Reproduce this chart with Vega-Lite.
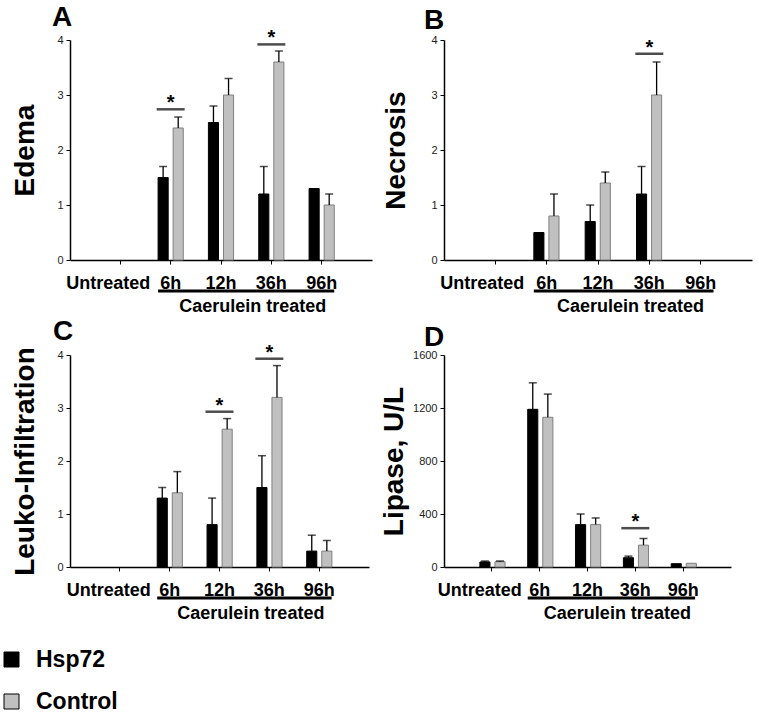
{
  "$schema": "https://vega.github.io/schema/vega-lite/v6.json",
  "padding": {"left": 0, "top": 4, "right": 2, "bottom": 0},
  "background": "white",
  "datasets": {
    "bars": [
      {"panel": "A", "t": "6h", "g": "Hsp72", "v": 1.5, "hi": 1.7},
      {"panel": "A", "t": "6h", "g": "Control", "v": 2.4, "hi": 2.6},
      {"panel": "A", "t": "12h", "g": "Hsp72", "v": 2.5, "hi": 2.8},
      {"panel": "A", "t": "12h", "g": "Control", "v": 3.0, "hi": 3.3},
      {"panel": "A", "t": "36h", "g": "Hsp72", "v": 1.2, "hi": 1.7},
      {"panel": "A", "t": "36h", "g": "Control", "v": 3.6, "hi": 3.8},
      {"panel": "A", "t": "96h", "g": "Hsp72", "v": 1.3, "hi": null},
      {"panel": "A", "t": "96h", "g": "Control", "v": 1.0, "hi": 1.2},
      {"panel": "B", "t": "6h", "g": "Hsp72", "v": 0.5, "hi": null},
      {"panel": "B", "t": "6h", "g": "Control", "v": 0.8, "hi": 1.2},
      {"panel": "B", "t": "12h", "g": "Hsp72", "v": 0.7, "hi": 1.0},
      {"panel": "B", "t": "12h", "g": "Control", "v": 1.4, "hi": 1.6},
      {"panel": "B", "t": "36h", "g": "Hsp72", "v": 1.2, "hi": 1.7},
      {"panel": "B", "t": "36h", "g": "Control", "v": 3.0, "hi": 3.6},
      {"panel": "C", "t": "6h", "g": "Hsp72", "v": 1.3, "hi": 1.5},
      {"panel": "C", "t": "6h", "g": "Control", "v": 1.4, "hi": 1.8},
      {"panel": "C", "t": "12h", "g": "Hsp72", "v": 0.8, "hi": 1.3},
      {"panel": "C", "t": "12h", "g": "Control", "v": 2.6, "hi": 2.8},
      {"panel": "C", "t": "36h", "g": "Hsp72", "v": 1.5, "hi": 2.1},
      {"panel": "C", "t": "36h", "g": "Control", "v": 3.2, "hi": 3.8},
      {"panel": "C", "t": "96h", "g": "Hsp72", "v": 0.3, "hi": 0.6},
      {"panel": "C", "t": "96h", "g": "Control", "v": 0.3, "hi": 0.5},
      {"panel": "D", "t": "Untreated", "g": "Hsp72", "v": 38, "hi": 45},
      {"panel": "D", "t": "Untreated", "g": "Control", "v": 40, "hi": 45},
      {"panel": "D", "t": "6h", "g": "Hsp72", "v": 1190, "hi": 1390},
      {"panel": "D", "t": "6h", "g": "Control", "v": 1130, "hi": 1305},
      {"panel": "D", "t": "12h", "g": "Hsp72", "v": 320, "hi": 400},
      {"panel": "D", "t": "12h", "g": "Control", "v": 320, "hi": 370},
      {"panel": "D", "t": "36h", "g": "Hsp72", "v": 70, "hi": 82},
      {"panel": "D", "t": "36h", "g": "Control", "v": 165, "hi": 215},
      {"panel": "D", "t": "96h", "g": "Hsp72", "v": 25, "hi": null},
      {"panel": "D", "t": "96h", "g": "Control", "v": 28, "hi": null}
    ],
    "sig": [
      {"panel": "A", "t": "6h", "y": 2.74, "label": "*"},
      {"panel": "A", "t": "36h", "y": 3.92, "label": "*"},
      {"panel": "B", "t": "36h", "y": 3.75, "label": "*"},
      {"panel": "C", "t": "12h", "y": 2.93, "label": "*"},
      {"panel": "C", "t": "36h", "y": 3.93, "label": "*"},
      {"panel": "D", "t": "36h", "y": 293, "label": "*"}
    ],
    "treat": [{"label": "Caerulein treated"}]
  },
  "concat": [
    {
      "width": 302, "height": 220,
      "title": {"text": "A", "dx": -18, "dy": -2},
      "layer": [
        {"data": {"name": "bars"}, "transform": [{"filter": "datum.panel === 'A'"}],
         "mark": {"type": "bar", "strokeWidth": 1},
         "encoding": {
           "x": {"field": "t", "type": "nominal", "title": null, "scale": {"domain": ["Untreated", "6h", "12h", "36h", "96h"], "paddingInner": 0.5, "paddingOuter": 0.75},
                 "axis": {"title": null, "labelOffset": {"condition": {"test": "datum.value === 'Untreated'", "value": -12}, "value": 0}}},
           "xOffset": {"field": "g", "type": "nominal", "scale": {"domain": ["Hsp72", "Control"], "paddingInner": 0.33}},
           "y": {"field": "v", "type": "quantitative", "title": "Edema", "scale": {"domain": [0, 4], "nice": false}, "axis": {"title": "Edema", "values": [0, 1, 2, 3, 4], "format": "d", "titlePadding": 17}},
           "color": {"field": "g", "type": "nominal", "scale": {"domain": ["Hsp72", "Control"], "range": ["#000000", "#c0c0c0"]}},
           "stroke": {"condition": {"test": "datum.g === 'Control'", "value": "#7f7f7f"}, "value": "#000000"}
         }},
        {"data": {"name": "bars"}, "transform": [{"filter": "datum.panel === 'A' && datum.hi != null"}],
         "mark": {"type": "rule", "strokeWidth": 1.3, "color": "black"},
         "encoding": {
           "x": {"field": "t", "type": "nominal", "title": null},
           "xOffset": {"field": "g", "type": "nominal"},
           "y": {"field": "v", "type": "quantitative", "title": "Edema", "scale": {"domain": [0, 4], "nice": false}},
           "y2": {"field": "hi"}
         }},
        {"data": {"name": "bars"}, "transform": [{"filter": "datum.panel === 'A' && datum.hi != null"}],
         "mark": {"type": "tick", "orient": "horizontal", "size": 8, "thickness": 1.5, "color": "black"},
         "encoding": {
           "x": {"field": "t", "type": "nominal", "title": null},
           "xOffset": {"field": "g", "type": "nominal"},
           "y": {"field": "hi", "type": "quantitative", "title": "Edema", "scale": {"domain": [0, 4], "nice": false}}
         }},
        {"data": {"name": "sig"}, "transform": [{"filter": "datum.panel === 'A'"}],
         "mark": {"type": "tick", "orient": "horizontal", "size": 28, "thickness": 2.5, "color": "black"},
         "encoding": {
           "x": {"field": "t", "type": "nominal", "title": null},
           "y": {"field": "y", "type": "quantitative", "title": "Edema", "scale": {"domain": [0, 4], "nice": false}}
         }},
        {"data": {"name": "sig"}, "transform": [{"filter": "datum.panel === 'A'"}],
         "mark": {"type": "text", "fontSize": 20, "fontWeight": "bold", "baseline": "alphabetic", "color": "black"},
         "encoding": {
           "x": {"field": "t", "type": "nominal", "title": null},
           "y": {"field": "y", "type": "quantitative", "title": "Edema", "scale": {"domain": [0, 4], "nice": false}},
           "text": {"field": "label"}
         }},
        {"data": {"name": "treat"},
         "mark": {"type": "rule", "strokeWidth": 3, "color": "black"},
         "encoding": {
           "x": {"datum": "6h", "type": "nominal", "bandPosition": 0, "title": null},
           "x2": {"datum": "96h", "bandPosition": 1},
           "y": {"datum": -0.564, "type": "quantitative", "title": "Edema", "scale": {"domain": [0, 4], "nice": false}}
         }},
        {"data": {"name": "treat"},
         "mark": {"type": "text", "fontSize": 18, "fontWeight": "bold", "baseline": "middle", "color": "black", "dx": -6},
         "encoding": {
           "x": {"datum": "36h", "type": "nominal", "bandPosition": 0, "title": null},
           "y": {"datum": -0.855, "type": "quantitative", "title": "Edema", "scale": {"domain": [0, 4], "nice": false}},
           "text": {"field": "label"}
         }}
      ]
    },
    {
      "width": 308, "height": 220,
      "title": {"text": "B", "dx": -20, "dy": -5},
      "layer": [
        {"data": {"name": "bars"}, "transform": [{"filter": "datum.panel === 'B'"}],
         "mark": {"type": "bar", "strokeWidth": 1},
         "encoding": {
           "x": {"field": "t", "type": "nominal", "title": null, "scale": {"domain": ["Untreated", "6h", "12h", "36h", "96h"], "paddingInner": 0.5, "paddingOuter": 0.75},
                 "axis": {"title": null, "labelOffset": {"condition": {"test": "datum.value === 'Untreated'", "value": -13}, "value": 0}}},
           "xOffset": {"field": "g", "type": "nominal", "scale": {"domain": ["Hsp72", "Control"], "paddingInner": 0.33}},
           "y": {"field": "v", "type": "quantitative", "title": "Necrosis", "scale": {"domain": [0, 4], "nice": false}, "axis": {"title": "Necrosis", "values": [0, 1, 2, 3, 4], "format": "d", "titlePadding": 20}},
           "color": {"field": "g", "type": "nominal", "scale": {"domain": ["Hsp72", "Control"], "range": ["#000000", "#c0c0c0"]}},
           "stroke": {"condition": {"test": "datum.g === 'Control'", "value": "#7f7f7f"}, "value": "#000000"}
         }},
        {"data": {"name": "bars"}, "transform": [{"filter": "datum.panel === 'B' && datum.hi != null"}],
         "mark": {"type": "rule", "strokeWidth": 1.3, "color": "black"},
         "encoding": {
           "x": {"field": "t", "type": "nominal", "title": null},
           "xOffset": {"field": "g", "type": "nominal"},
           "y": {"field": "v", "type": "quantitative", "title": "Necrosis", "scale": {"domain": [0, 4], "nice": false}},
           "y2": {"field": "hi"}
         }},
        {"data": {"name": "bars"}, "transform": [{"filter": "datum.panel === 'B' && datum.hi != null"}],
         "mark": {"type": "tick", "orient": "horizontal", "size": 8, "thickness": 1.5, "color": "black"},
         "encoding": {
           "x": {"field": "t", "type": "nominal", "title": null},
           "xOffset": {"field": "g", "type": "nominal"},
           "y": {"field": "hi", "type": "quantitative", "title": "Necrosis", "scale": {"domain": [0, 4], "nice": false}}
         }},
        {"data": {"name": "sig"}, "transform": [{"filter": "datum.panel === 'B'"}],
         "mark": {"type": "tick", "orient": "horizontal", "size": 28, "thickness": 2.5, "color": "black"},
         "encoding": {
           "x": {"field": "t", "type": "nominal", "title": null},
           "y": {"field": "y", "type": "quantitative", "title": "Necrosis", "scale": {"domain": [0, 4], "nice": false}}
         }},
        {"data": {"name": "sig"}, "transform": [{"filter": "datum.panel === 'B'"}],
         "mark": {"type": "text", "fontSize": 20, "fontWeight": "bold", "baseline": "alphabetic", "color": "black"},
         "encoding": {
           "x": {"field": "t", "type": "nominal", "title": null},
           "y": {"field": "y", "type": "quantitative", "title": "Necrosis", "scale": {"domain": [0, 4], "nice": false}},
           "text": {"field": "label"}
         }},
        {"data": {"name": "treat"},
         "mark": {"type": "rule", "strokeWidth": 3, "color": "black"},
         "encoding": {
           "x": {"datum": "6h", "type": "nominal", "bandPosition": 0, "title": null},
           "x2": {"datum": "96h", "bandPosition": 1},
           "y": {"datum": -0.564, "type": "quantitative", "title": "Necrosis", "scale": {"domain": [0, 4], "nice": false}}
         }},
        {"data": {"name": "treat"},
         "mark": {"type": "text", "fontSize": 18, "fontWeight": "bold", "baseline": "middle", "color": "black", "dx": -6},
         "encoding": {
           "x": {"datum": "36h", "type": "nominal", "bandPosition": 0, "title": null},
           "y": {"datum": -0.855, "type": "quantitative", "title": "Necrosis", "scale": {"domain": [0, 4], "nice": false}},
           "text": {"field": "label"}
         }}
      ]
    },
    {
      "width": 299, "height": 212,
      "title": {"text": "C", "dx": -17, "dy": -3},
      "layer": [
        {"data": {"name": "bars"}, "transform": [{"filter": "datum.panel === 'C'"}],
         "mark": {"type": "bar", "strokeWidth": 1},
         "encoding": {
           "x": {"field": "t", "type": "nominal", "title": null, "scale": {"domain": ["Untreated", "6h", "12h", "36h", "96h"], "paddingInner": 0.5, "paddingOuter": 0.75},
                 "axis": {"title": null, "labelOffset": {"condition": {"test": "datum.value === 'Untreated'", "value": -11}, "value": 0}}},
           "xOffset": {"field": "g", "type": "nominal", "scale": {"domain": ["Hsp72", "Control"], "paddingInner": 0.33}},
           "y": {"field": "v", "type": "quantitative", "title": "Leuko-Infiltration", "scale": {"domain": [0, 4], "nice": false}, "axis": {"title": "Leuko-Infiltration", "values": [0, 1, 2, 3, 4], "format": "d", "titlePadding": 17}},
           "color": {"field": "g", "type": "nominal", "scale": {"domain": ["Hsp72", "Control"], "range": ["#000000", "#c0c0c0"]}},
           "stroke": {"condition": {"test": "datum.g === 'Control'", "value": "#7f7f7f"}, "value": "#000000"}
         }},
        {"data": {"name": "bars"}, "transform": [{"filter": "datum.panel === 'C' && datum.hi != null"}],
         "mark": {"type": "rule", "strokeWidth": 1.3, "color": "black"},
         "encoding": {
           "x": {"field": "t", "type": "nominal", "title": null},
           "xOffset": {"field": "g", "type": "nominal"},
           "y": {"field": "v", "type": "quantitative", "title": "Leuko-Infiltration", "scale": {"domain": [0, 4], "nice": false}},
           "y2": {"field": "hi"}
         }},
        {"data": {"name": "bars"}, "transform": [{"filter": "datum.panel === 'C' && datum.hi != null"}],
         "mark": {"type": "tick", "orient": "horizontal", "size": 8, "thickness": 1.5, "color": "black"},
         "encoding": {
           "x": {"field": "t", "type": "nominal", "title": null},
           "xOffset": {"field": "g", "type": "nominal"},
           "y": {"field": "hi", "type": "quantitative", "title": "Leuko-Infiltration", "scale": {"domain": [0, 4], "nice": false}}
         }},
        {"data": {"name": "sig"}, "transform": [{"filter": "datum.panel === 'C'"}],
         "mark": {"type": "tick", "orient": "horizontal", "size": 28, "thickness": 2.5, "color": "black"},
         "encoding": {
           "x": {"field": "t", "type": "nominal", "title": null},
           "y": {"field": "y", "type": "quantitative", "title": "Leuko-Infiltration", "scale": {"domain": [0, 4], "nice": false}}
         }},
        {"data": {"name": "sig"}, "transform": [{"filter": "datum.panel === 'C'"}],
         "mark": {"type": "text", "fontSize": 20, "fontWeight": "bold", "baseline": "alphabetic", "color": "black"},
         "encoding": {
           "x": {"field": "t", "type": "nominal", "title": null},
           "y": {"field": "y", "type": "quantitative", "title": "Leuko-Infiltration", "scale": {"domain": [0, 4], "nice": false}},
           "text": {"field": "label"}
         }},
        {"data": {"name": "treat"},
         "mark": {"type": "rule", "strokeWidth": 3, "color": "black"},
         "encoding": {
           "x": {"datum": "6h", "type": "nominal", "bandPosition": 0, "title": null},
           "x2": {"datum": "96h", "bandPosition": 1},
           "y": {"datum": -0.585, "type": "quantitative", "title": "Leuko-Infiltration", "scale": {"domain": [0, 4], "nice": false}}
         }},
        {"data": {"name": "treat"},
         "mark": {"type": "text", "fontSize": 18, "fontWeight": "bold", "baseline": "middle", "color": "black", "dx": -6},
         "encoding": {
           "x": {"datum": "36h", "type": "nominal", "bandPosition": 0, "title": null},
           "y": {"datum": -0.887, "type": "quantitative", "title": "Leuko-Infiltration", "scale": {"domain": [0, 4], "nice": false}},
           "text": {"field": "label"}
         }}
      ]
    },
    {
      "width": 287, "height": 212,
      "title": {"text": "D", "dx": -20, "dy": -3},
      "layer": [
        {"data": {"name": "bars"}, "transform": [{"filter": "datum.panel === 'D'"}],
         "mark": {"type": "bar", "strokeWidth": 1},
         "encoding": {
           "x": {"field": "t", "type": "nominal", "title": null, "scale": {"domain": ["Untreated", "6h", "12h", "36h", "96h"], "paddingInner": 0.5, "paddingOuter": 0.75},
                 "axis": {"title": null, "labelOffset": {"condition": {"test": "datum.value === 'Untreated'", "value": -12}, "value": 0}}},
           "xOffset": {"field": "g", "type": "nominal", "scale": {"domain": ["Hsp72", "Control"], "paddingInner": 0.33}},
           "y": {"field": "v", "type": "quantitative", "title": "Lipase, U/L", "scale": {"domain": [0, 1600], "nice": false}, "axis": {"title": "Lipase, U/L", "values": [0, 200, 400, 600, 800, 1000, 1200, 1400, 1600], "format": "d", "labelOverlap": false, "titlePadding": 4}},
           "color": {"field": "g", "type": "nominal", "scale": {"domain": ["Hsp72", "Control"], "range": ["#000000", "#c0c0c0"]}},
           "stroke": {"condition": {"test": "datum.g === 'Control'", "value": "#7f7f7f"}, "value": "#000000"}
         }},
        {"data": {"name": "bars"}, "transform": [{"filter": "datum.panel === 'D' && datum.hi != null"}],
         "mark": {"type": "rule", "strokeWidth": 1.3, "color": "black"},
         "encoding": {
           "x": {"field": "t", "type": "nominal", "title": null},
           "xOffset": {"field": "g", "type": "nominal"},
           "y": {"field": "v", "type": "quantitative", "title": "Lipase, U/L", "scale": {"domain": [0, 1600], "nice": false}},
           "y2": {"field": "hi"}
         }},
        {"data": {"name": "bars"}, "transform": [{"filter": "datum.panel === 'D' && datum.hi != null"}],
         "mark": {"type": "tick", "orient": "horizontal", "size": 8, "thickness": 1.5, "color": "black"},
         "encoding": {
           "x": {"field": "t", "type": "nominal", "title": null},
           "xOffset": {"field": "g", "type": "nominal"},
           "y": {"field": "hi", "type": "quantitative", "title": "Lipase, U/L", "scale": {"domain": [0, 1600], "nice": false}}
         }},
        {"data": {"name": "sig"}, "transform": [{"filter": "datum.panel === 'D'"}],
         "mark": {"type": "tick", "orient": "horizontal", "size": 28, "thickness": 2.5, "color": "black"},
         "encoding": {
           "x": {"field": "t", "type": "nominal", "title": null},
           "y": {"field": "y", "type": "quantitative", "title": "Lipase, U/L", "scale": {"domain": [0, 1600], "nice": false}}
         }},
        {"data": {"name": "sig"}, "transform": [{"filter": "datum.panel === 'D'"}],
         "mark": {"type": "text", "fontSize": 20, "fontWeight": "bold", "baseline": "alphabetic", "color": "black"},
         "encoding": {
           "x": {"field": "t", "type": "nominal", "title": null},
           "y": {"field": "y", "type": "quantitative", "title": "Lipase, U/L", "scale": {"domain": [0, 1600], "nice": false}},
           "text": {"field": "label"}
         }},
        {"data": {"name": "treat"},
         "mark": {"type": "rule", "strokeWidth": 3, "color": "black"},
         "encoding": {
           "x": {"datum": "6h", "type": "nominal", "bandPosition": 0, "title": null},
           "x2": {"datum": "96h", "bandPosition": 1},
           "y": {"datum": -234, "type": "quantitative", "title": "Lipase, U/L", "scale": {"domain": [0, 1600], "nice": false}}
         }},
        {"data": {"name": "treat"},
         "mark": {"type": "text", "fontSize": 18, "fontWeight": "bold", "baseline": "middle", "color": "black", "dx": -6},
         "encoding": {
           "x": {"datum": "36h", "type": "nominal", "bandPosition": 0, "title": null},
           "y": {"datum": -355, "type": "quantitative", "title": "Lipase, U/L", "scale": {"domain": [0, 1600], "nice": false}},
           "text": {"field": "label"}
         }}
      ]
    }
  ],
  "columns": 2,
  "align": "each",
  "spacing": {"row": 0, "column": 8},
  "config": {
    "font": "Liberation Sans",
    "view": {"stroke": null},
    "axis": {"grid": false, "domainColor": "black", "domainWidth": 1.5, "tickColor": "black", "tickWidth": 1},
    "axisX": {"labelFontSize": 18, "labelFontWeight": "bold", "labelColor": "black", "tickSize": 4, "labelPadding": 10, "labelAngle": 0},
    "axisY": {"labelFontSize": 11, "labelColor": "#222222", "tickSize": 4, "labelPadding": 3, "labelOverlap": false, "titleFontSize": 28, "titleFontWeight": "bold", "titleColor": "black"},
    "title": {"fontSize": 28, "fontWeight": "bold", "anchor": "start", "frame": "group", "color": "black", "offset": -6},
    "legend": {"orient": "none", "legendX": -70, "legendY": 608, "direction": "vertical", "title": null, "labelFontSize": 23, "labelFontWeight": "bold", "labelColor": "black", "symbolType": "square", "symbolSize": 225, "symbolStrokeColor": "black", "symbolStrokeWidth": 1, "rowPadding": 18, "labelOffset": 13}
  }
}
